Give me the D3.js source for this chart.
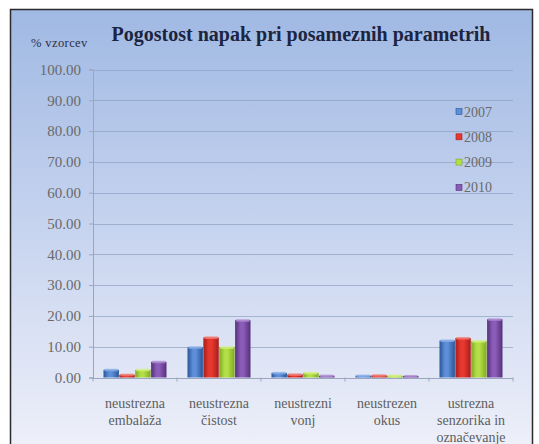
<!DOCTYPE html>
<html>
<head>
<meta charset="utf-8">
<script src="https://cdn.jsdelivr.net/npm/d3@7"></script>
<style>
  html, body { margin: 0; padding: 0; background: #ffffff; }
  svg { display: block; }
</style>
</head>
<body>
<svg id="chart" width="539" height="444"></svg>
<script>
const categories = [
  ["neustrezna", "embalaža"],
  ["neustrezna", "čistost"],
  ["neustrezni", "vonj"],
  ["neustrezen", "okus"],
  ["ustrezna", "senzorika in", "označevanje"]
];
const years = ["2007", "2008", "2009", "2010"];
const values2007 = [2.5, 9.8, 1.5, 0.6, 12.0];
const values2008 = [0.9, 13.0, 1.0, 0.7, 12.8];
const values2009 = [2.5, 9.8, 1.5, 0.6, 11.8];
const values2010 = [5.1, 18.6, 0.6, 0.5, 18.9];
const yTicks = [0, 10, 20, 30, 40, 50, 60, 70, 80, 90, 100];
const titleText = "Pogostost napak pri posameznih parametrih";
const yAxisTitle = "% vzorcev";

const seriesValues = [values2007, values2008, values2009, values2010];
const colors = [
  { edge: "#2a5598", mid: "#5d8ed8", light: "#86aee8" },
  { edge: "#a81c18", mid: "#e5392f", light: "#f27a70" },
  { edge: "#7fa826", mid: "#b4de46", light: "#d2f07c" },
  { edge: "#55307a", mid: "#8a5bb7", light: "#b08dd2" }
];
const serif = '"Liberation Serif", "Times New Roman", "Tinos"';

const svg = d3.select("#chart");
const defs = svg.append("defs");

const bg = defs.append("linearGradient").attr("id", "bg")
  .attr("x1", 0).attr("y1", 0).attr("x2", 0).attr("y2", 1);
bg.append("stop").attr("offset", "0%").attr("stop-color", "#a0b9e3");
bg.append("stop").attr("offset", "45%").attr("stop-color", "#c3d1ee");
bg.append("stop").attr("offset", "100%").attr("stop-color", "#eef0f9");

colors.forEach((c, i) => {
  const g = defs.append("linearGradient").attr("id", "bar" + i)
    .attr("x1", 0).attr("y1", 0).attr("x2", 1).attr("y2", 0);
  g.append("stop").attr("offset", "0%").attr("stop-color", c.edge);
  g.append("stop").attr("offset", "35%").attr("stop-color", c.mid);
  g.append("stop").attr("offset", "55%").attr("stop-color", c.mid);
  g.append("stop").attr("offset", "100%").attr("stop-color", c.edge);
});

svg.append("rect").attr("x", 10.5).attr("y", 9.5).attr("width", 522).attr("height", 440)
  .attr("fill", "url(#bg)").attr("stroke", "#2b2b2b").attr("stroke-width", 1.5);

const plotLeft = 93, plotRight = 513;
const x0 = d3.scaleBand().domain(d3.range(categories.length))
  .range([plotLeft, plotRight]).paddingInner(0.25).paddingOuter(0.125);
const x1 = d3.scaleBand().domain(years).range([0, x0.bandwidth()]).paddingInner(0.03);
const y = d3.scaleLinear().domain([0, 100]).range([377.5, 69.5]);

svg.append("g").selectAll("line").data(yTicks.filter(d => d > 0)).join("line")
  .attr("x1", plotLeft).attr("x2", plotRight)
  .attr("y1", d => Math.round(y(d)) + 0.5).attr("y2", d => Math.round(y(d)) + 0.5)
  .attr("stroke", "#8fa0c0").attr("stroke-opacity", 0.7).attr("stroke-width", 1);

const yAxis = d3.axisLeft(y).tickValues(yTicks).tickFormat(d3.format(".2f")).tickSize(4).tickPadding(8);
const yg = svg.append("g").attr("transform", `translate(${plotLeft},0)`).call(yAxis)
  .attr("font-family", serif);
yg.select(".domain").attr("stroke", "#9aa6bf");
yg.selectAll(".tick line").attr("stroke", "#9aa6bf");
yg.selectAll(".tick text").attr("fill", "#6a6a6a")
  .style("font-family", serif).style("font-size", "15px");

const groups = svg.append("g").selectAll("g").data(categories.map((c, i) => i)).join("g")
  .attr("transform", i => `translate(${x0(i)},0)`);
groups.selectAll("rect.bar").data(i => years.map((yr, s) => ({ s, yr, v: seriesValues[s][i] })))
  .join("rect").attr("class", "bar")
  .attr("x", d => x1(d.yr)).attr("width", x1.bandwidth())
  .attr("y", d => y(d.v)).attr("height", d => y(0) - y(d.v))
  .attr("fill", d => `url(#bar${d.s})`);
groups.selectAll("rect.cap").data(i => years.map((yr, s) => ({ s, yr, v: seriesValues[s][i] })))
  .join("rect").attr("class", "cap")
  .attr("x", d => x1(d.yr) + 1).attr("width", x1.bandwidth() - 2)
  .attr("y", d => y(d.v) - 1).attr("height", d => Math.min(2.5, y(0) - y(d.v) + 1))
  .attr("fill", d => colors[d.s].light).attr("opacity", 0.8);

const xAxisG = svg.append("g");
xAxisG.append("line").attr("x1", plotLeft).attr("x2", plotRight)
  .attr("y1", Math.round(y(0)) + 0.5).attr("y2", Math.round(y(0)) + 0.5)
  .attr("stroke", "#9aa6bf");
const step = x0.step();
xAxisG.selectAll("line.tk").data(d3.range(categories.length + 1)).join("line").attr("class", "tk")
  .attr("x1", i => plotLeft + i * step).attr("x2", i => plotLeft + i * step)
  .attr("y1", y(0)).attr("y2", y(0) + 4).attr("stroke", "#9aa6bf");

const lab = svg.append("g").selectAll("text").data(categories.map((c, i) => ({ c, i }))).join("text")
  .attr("text-anchor", "middle").attr("fill", "#5e5e5e")
  .style("font-family", serif).style("font-size", "14px");
lab.each(function(d) {
  const t = d3.select(this);
  d.c.forEach((line, k) => {
    t.append("tspan").attr("x", x0(d.i) + x0.bandwidth() / 2).attr("y", 408 + k * 17).text(line);
  });
});

svg.append("text").attr("x", 301).attr("y", 41).attr("text-anchor", "middle")
  .attr("fill", "#1c2440").style("font-family", serif)
  .style("font-weight", "bold").style("font-size", "20px")
  .text(titleText);
svg.append("text").attr("x", 31).attr("y", 47).attr("fill", "#2a2f45")
  .style("font-family", serif).style("font-size", "12.5px").style("letter-spacing", "0.4px")
  .text(yAxisTitle);

const leg = svg.append("g").selectAll("g").data(years.map((yr, s) => ({ yr, s }))).join("g")
  .attr("transform", d => `translate(456,${112 + d.s * 25.3})`);
leg.append("rect").attr("x", 0).attr("y", -3.5).attr("width", 6).attr("height", 6)
  .attr("fill", d => colors[d.s].mid).attr("stroke", d => colors[d.s].edge).attr("stroke-width", 0.6);
leg.append("text").attr("x", 8).attr("y", 4.5).attr("fill", "#6a6a6a")
  .style("font-family", serif).style("font-size", "14px").text(d => d.yr);
</script>
</body>
</html>
